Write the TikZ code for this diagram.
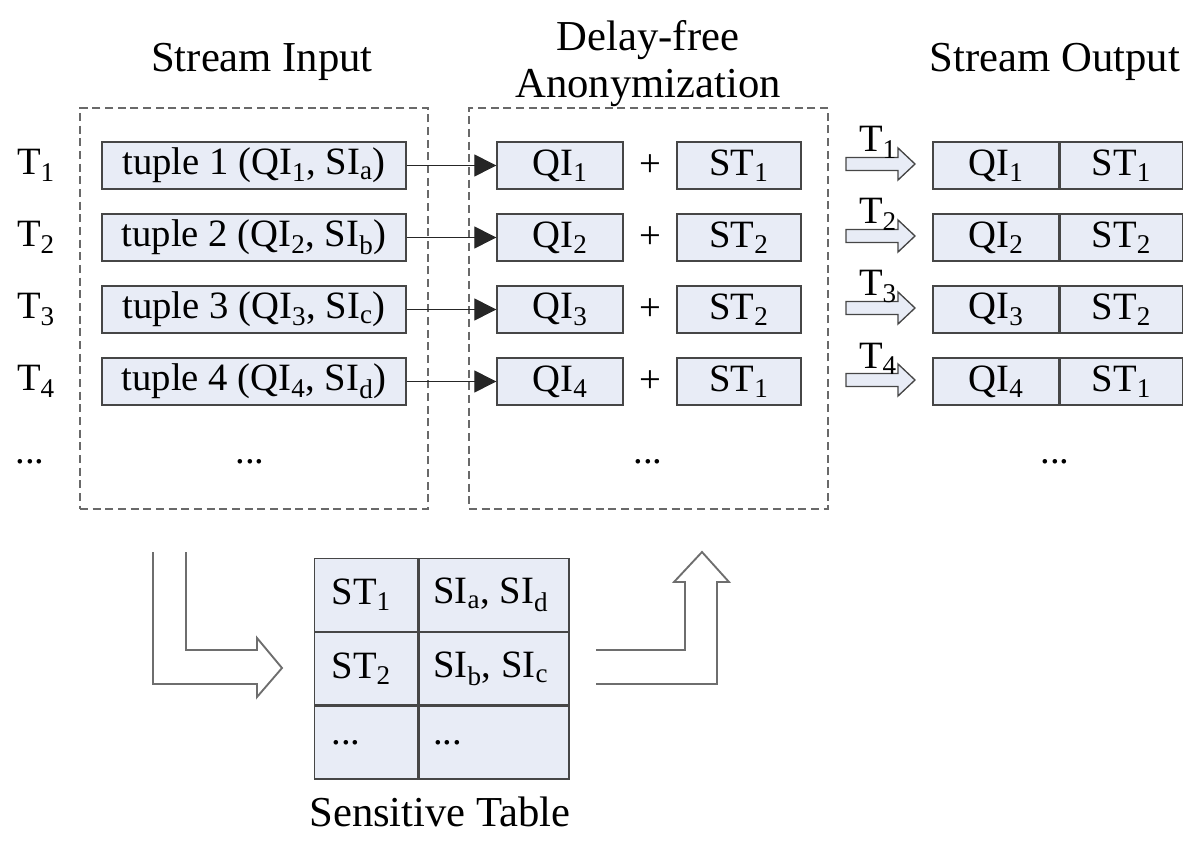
\documentclass[tikz,border=0pt]{standalone}
\usepackage{fontspec}
\setmainfont{Liberation Serif}
\usetikzlibrary{arrows.meta}
\definecolor{boxfill}{RGB}{232,236,246}
\definecolor{boxline}{RGB}{70,70,70}
\definecolor{dashline}{RGB}{105,105,105}
\definecolor{hollowline}{RGB}{110,110,110}
\newcommand\sbs[1]{\textsubscript{#1}}
\begin{document}
\begin{tikzpicture}[x=0.75pt,y=-0.75pt,
  txt/.style={inner sep=0pt,font=\fontsize{29}{34}\selectfont},
  ttl/.style={inner sep=0pt,font=\fontsize{32}{38}\selectfont},
  cell/.style={txt,draw=boxline,fill=boxfill,line width=1pt,minimum height=35.25pt},
  tuplebox/.style={cell,minimum width=228pt},
  qibox/.style={cell,minimum width=94.5pt},
  stbox/.style={cell,minimum width=93pt},
  oqbox/.style={cell,minimum width=94.5pt},
  osbox/.style={cell,minimum width=91.5pt},
  tcellL/.style={draw=boxline,fill=boxfill,line width=1pt,minimum height=54.4pt,minimum width=77.25pt,inner sep=0pt},
  tcellR/.style={draw=boxline,fill=boxfill,line width=1pt,minimum height=54.4pt,minimum width=112.5pt,inner sep=0pt},
  celltxt/.style={txt,anchor=west},
  dashbox/.style={draw=dashline,line width=1pt,dash pattern=on 6pt off 3.5pt,inner sep=0pt},
  conn/.style={draw=black!85,line width=0.8pt,-{Triangle[length=16.5pt,width=16.5pt]}},
  hollow/.style={draw=boxline,line width=1pt,fill=boxfill,line join=miter},
  lshape/.style={draw=hollowline,line width=1.4pt,line join=miter},
]
\useasboundingbox (0,0) rectangle (1198,841);

% titles
\node[ttl] (tin) at (262,62) {Stream Input};
\node[ttl] (tdf1) at (648,40) {Delay-free};
\node[ttl] (tdf2) at (648,88) {Anonymization};
\node[ttl] (tout) at (1055,62) {Stream Output};

% dashed boxes
\node[dashbox,minimum width=261pt,minimum height=300.75pt] (inbox) at (254,308.5) {};
\node[dashbox,minimum width=269.25pt,minimum height=300.75pt] (anbox) at (648.5,308.5) {};

\foreach \i/\y/\s/\st in {1/165.5/a/1, 2/237.5/b/2, 3/309.5/c/2, 4/381.5/d/1}{
  \node[txt] (T\i) at (36,\y) {T\sbs{\i}};
  \node[tuplebox] (t\i) at (254,\y) {tuple \i\ (QI\sbs{\i}, SI\sbs{\s})};
  \node[qibox] (q\i) at (560,\y) {QI\sbs{\i}};
  \node[txt] (p\i) at (650,\y) {+};
  \node[stbox] (s\i) at (739,\y) {ST\sbs{\st}};
  \node[oqbox] (oq\i) at (996,\y) {QI\sbs{\i}};
  \node[osbox,anchor=west] (os\i) at (oq\i.east) {ST\sbs{\st}};
  \draw[conn] (t\i.east) -- (q\i.west);
  \pgfmathsetmacro\c{\y-1.5}
  \draw[hollow] (846,\c-6.5) -- (898,\c-6.5) -- (898,\c-16) -- (915,\c) -- (898,\c+16) -- (898,\c+6.5) -- (846,\c+6.5) -- cycle;
  \node[txt,anchor=base] (aT\i) at (878,\c-12) {T\sbs{\i}};
}

% dots
\node[txt] (d0) at (30,462) {...};
\node[txt] (d1) at (250,462) {...};
\node[txt] (d2) at (648,462) {...};
\node[txt] (d3) at (1055,462) {...};

% sensitive table
\node[tcellL,anchor=north west] (c11) at (314,558) {};
\node[tcellR,anchor=north west] (c12) at (c11.north east) {};
\node[tcellL,anchor=north west] (c21) at (c11.south west) {};
\node[tcellR,anchor=north west] (c22) at (c21.north east) {};
\node[tcellL,anchor=north west] (c31) at (c21.south west) {};
\node[tcellR,anchor=north west] (c32) at (c31.north east) {};
\node[celltxt] (x11) at ([xshift=13pt]c11.west) {ST\sbs{1}};
\node[celltxt] (x12) at ([xshift=11pt]c12.west) {SI\sbs{a}, SI\sbs{d}};
\node[celltxt] (x21) at ([xshift=13pt]c21.west) {ST\sbs{2}};
\node[celltxt] (x22) at ([xshift=11pt]c22.west) {SI\sbs{b}, SI\sbs{c}};
\node[celltxt] (x31) at ([xshift=13pt]c31.west) {...};
\node[celltxt] (x32) at ([xshift=11pt]c32.west) {...};
\node[ttl] (tst) at (440,812) {Sensitive Table};

% L-shaped hollow arrows
\draw[lshape] (153,552) -- (153,684) -- (257,684) -- (257,697) -- (282,668) -- (257,638) -- (257,650) -- (186,650) -- (186,552);
\draw[lshape] (596,684) -- (717,684) -- (717,582) -- (729,582) -- (702,552) -- (674,582) -- (685,582) -- (685,650) -- (596,650);
\end{tikzpicture}
\end{document}
